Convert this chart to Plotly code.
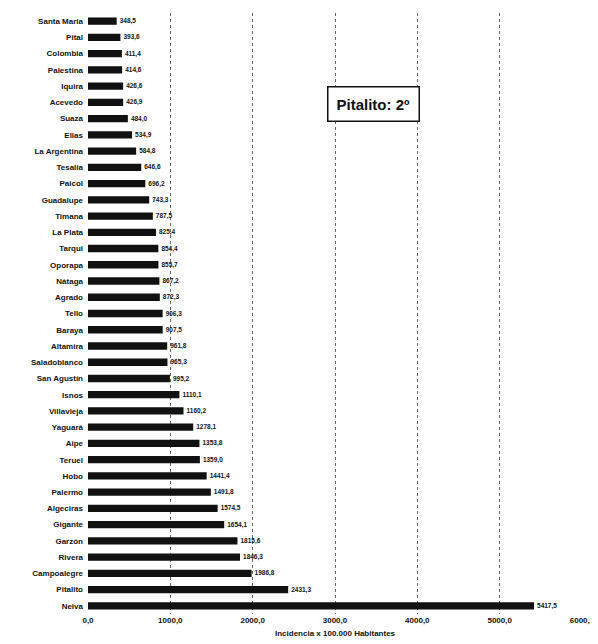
import plotly.graph_objects as go

municipios = ["Santa Maria", "Pital", "Colombia", "Palestina", "Iquira", "Acevedo", "Suaza",
              "Elias", "La Argentina", "Tesalia", "Paicol", "Guadalupe", "Timana", "La Plata",
              "Tarqui", "Oporapa", "Nátaga", "Agrado", "Tello", "Baraya", "Altamira",
              "Saladoblanco", "San Agustín", "Isnos", "Villavieja", "Yaguará", "Aipe", "Teruel",
              "Hobo", "Palermo", "Algeciras", "Gigante", "Garzón", "Rivera", "Campoalegre",
              "Pitalito", "Neiva"]
incidencia = [348.5, 393.6, 411.4, 414.6, 426.6, 426.9, 484.0,
              534.9, 584.8, 646.6, 696.2, 743.3, 787.5, 825.4,
              854.4, 855.7, 867.2, 872.3, 906.3, 907.5, 961.8,
              965.3, 995.2, 1110.1, 1160.2, 1278.1, 1353.8, 1359.0,
              1441.4, 1491.8, 1574.5, 1654.1, 1815.6, 1846.3, 1986.8,
              2431.3, 5417.5]
x_ticks = [0, 1000, 2000, 3000, 4000, 5000, 6000]

font = "Liberation Sans"
bold8 = dict(family=font, size=8, color="#111111", weight="bold")

fig = go.Figure(go.Bar(
    x=incidencia, y=municipios, orientation="h",
    marker=dict(color="#111111", line=dict(width=0)),
    width=0.45,
    text=incidencia, texttemplate="%{x:.1f}", textposition="outside",
    textfont=bold8,
    cliponaxis=False,
))

fig.update_layout(
    width=598, height=644,
    margin=dict(l=80, r=24, t=5, b=38),
    paper_bgcolor="white", plot_bgcolor="white",
    separators=",.",
    showlegend=False,
    font=bold8,
    xaxis=dict(range=[0, 6000], tickvals=x_ticks, tickformat=".1f",
               showgrid=True, gridcolor="#666666", griddash="dot", gridwidth=1,
               zeroline=False, showline=False,
               tickfont=bold8,
               title=dict(text="Incidencia x 100.000 Habitantes",
                          font=dict(family=font, size=8, color="#111111"), standoff=6)),
    yaxis=dict(autorange="reversed", showgrid=False, zeroline=False,
               tickfont=bold8, ticks="", ticklabelstandoff=4),
    annotations=[dict(text="<b>Pitalito: 2º</b>", xref="paper", yref="paper",
                      x=0.483, y=0.848, xanchor="left", yanchor="middle",
                      showarrow=False, font=dict(family=font, size=15, color="#111111"),
                      bordercolor="#111111", borderwidth=1.5, borderpad=8,
                      bgcolor="white")],
)

fig.write_html("out.html")
